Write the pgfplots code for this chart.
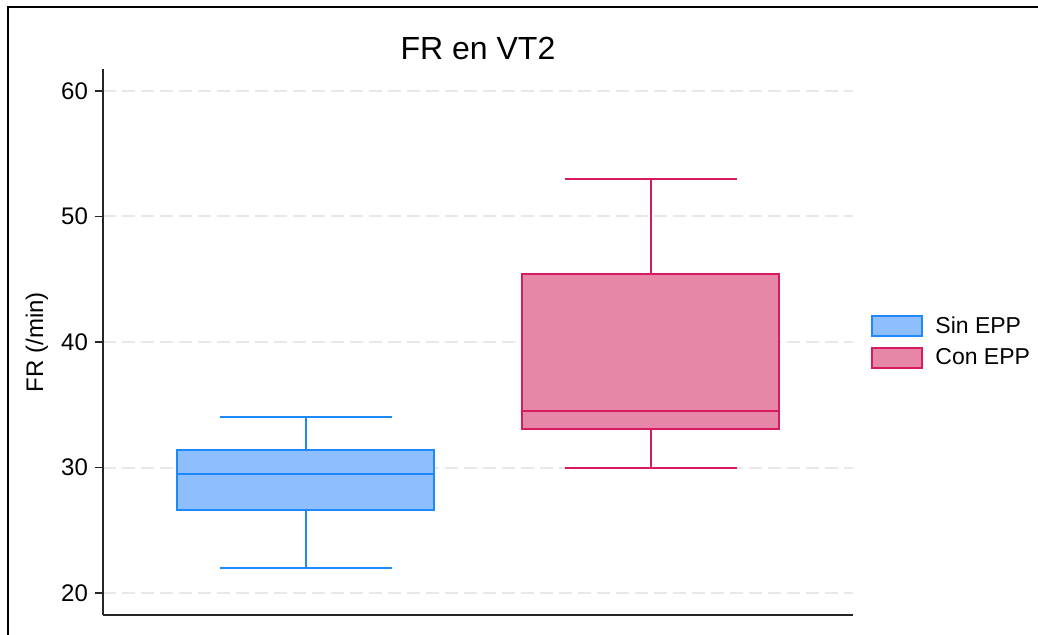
\documentclass[border=0pt]{standalone}
\usepackage{pgfplots}
\pgfplotsset{compat=1.18}
\usepackage{fontspec}
\setmainfont{Liberation Sans}
\definecolor{sinfill}{HTML}{8FBEFF}
\definecolor{sinline}{HTML}{1E88FF}
\definecolor{confill}{HTML}{E687A8}
\definecolor{conline}{HTML}{D81B60}
\definecolor{gridc}{HTML}{E8E8E8}
\pgfplotsset{rectlegend/.style={legend image code/.code={\draw[##1] (0pt,-5pt) rectangle (25pt,5pt);}}}
\begin{document}
\begin{tikzpicture}
\path[use as bounding box] (0pt,0pt) rectangle (519pt,317pt);
\draw[line width=1.1pt] (4pt,-1pt) -- (4pt,313.6pt) -- (520pt,313.6pt);
\begin{axis}[
  at={(51.5pt,9.5pt)}, anchor=south west, scale only axis,
  width=375pt, height=273pt,
  xmin=0.412, xmax=2.586, ymin=18.25, ymax=61.75,
  axis x line*=bottom, axis y line*=left,
  axis line style={-, line width=0.75pt, color=black!85},
  xtick=\empty,
  ytick={20,30,40,50,60},
  tick align=outside, major tick length=4pt,
  tick style={line width=0.75pt, color=black!85},
  /pgf/number format/assume math mode=true,
  tick label style={font=\fontsize{12}{14}\selectfont},
  ymajorgrids,
  grid style={dash pattern=on 6.5pt off 3pt, line width=1pt, color=gridc},
  title={FR en VT2},
  title style={at={(0.5,1)}, anchor=base, yshift=-1pt, font=\fontsize{16}{19}\selectfont},
  ylabel={FR (/min)},
  every axis y label/.style={at={(axis description cs:0,0.5)}, xshift=-33pt, rotate=90, anchor=center, font=\fontsize{12}{14}\selectfont},
  legend style={at={(1,0.5)}, anchor=west, xshift=9pt, draw=none, fill=none, inner sep=0pt,
    row sep=3pt, font=\fontsize{11.5}{14}\selectfont, cells={anchor=west},
    nodes={inner sep=1.5pt}, /tikz/every odd column/.append style={column sep=4.5pt}},
]
\addlegendimage{rectlegend, draw=sinline, fill=sinfill, line width=1pt}
\addlegendentry{Sin EPP}
\addlegendimage{rectlegend, draw=conline, fill=confill, line width=1pt}
\addlegendentry{Con EPP}
% Sin EPP: whiskers, caps, box, median
\addplot[forget plot, draw=sinline, line width=1pt] coordinates {(1,31.4) (1,34)};
\addplot[forget plot, draw=sinline, line width=1pt] coordinates {(1,22) (1,26.6)};
\addplot[forget plot, draw=sinline, line width=1pt] coordinates {(0.75,34) (1.25,34)};
\addplot[forget plot, draw=sinline, line width=1pt] coordinates {(0.75,22) (1.25,22)};
\addplot[forget plot, draw=sinline, fill=sinfill, line width=1pt]
  coordinates {(0.6275,26.6) (1.3725,26.6) (1.3725,31.4) (0.6275,31.4)} -- cycle;
\addplot[forget plot, draw=sinline, line width=1pt] coordinates {(0.6275,29.5) (1.3725,29.5)};
% Con EPP
\addplot[forget plot, draw=conline, line width=1pt] coordinates {(2,45.4) (2,53)};
\addplot[forget plot, draw=conline, line width=1pt] coordinates {(2,30) (2,33.1)};
\addplot[forget plot, draw=conline, line width=1pt] coordinates {(1.75,53) (2.25,53)};
\addplot[forget plot, draw=conline, line width=1pt] coordinates {(1.75,30) (2.25,30)};
\addplot[forget plot, draw=conline, fill=confill, line width=1pt]
  coordinates {(1.6275,33.1) (2.3725,33.1) (2.3725,45.4) (1.6275,45.4)} -- cycle;
\addplot[forget plot, draw=conline, line width=1pt] coordinates {(1.6275,34.5) (2.3725,34.5)};
\end{axis}
\end{tikzpicture}
\end{document}
